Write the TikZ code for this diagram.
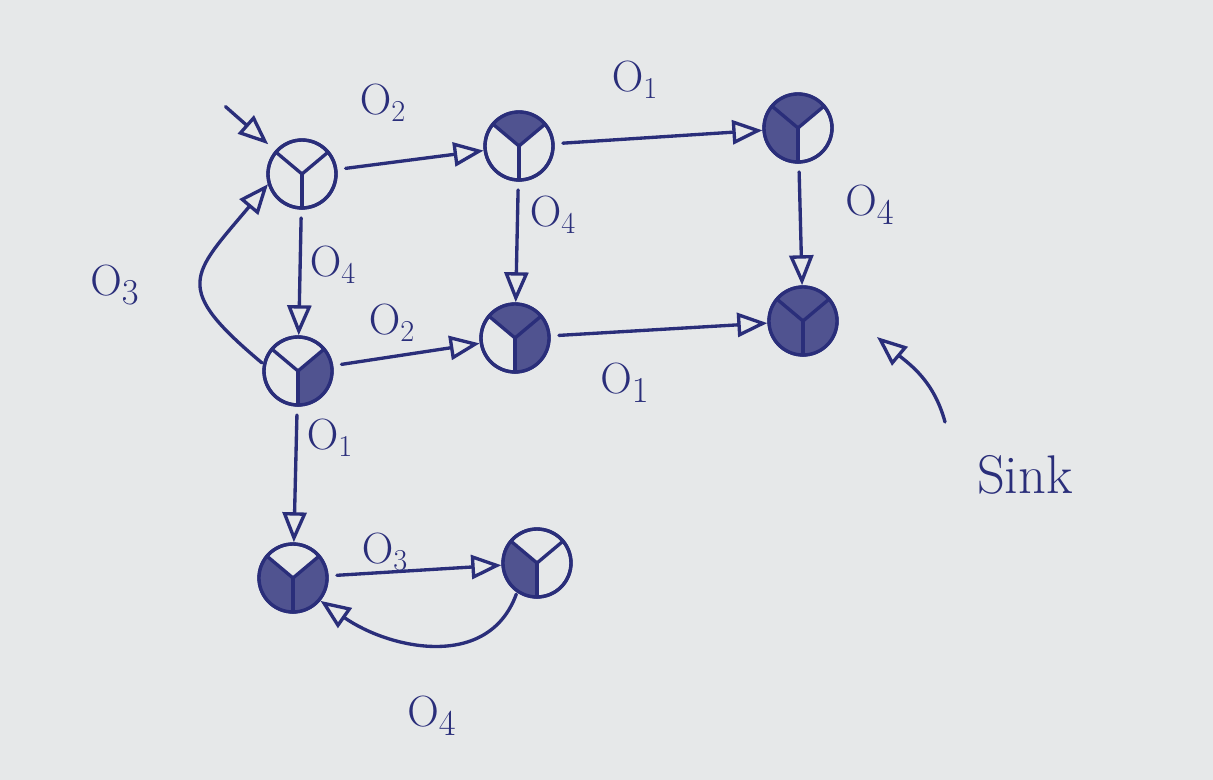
\documentclass[tikz,border=0pt]{standalone}
\usetikzlibrary{arrows.meta}

\definecolor{ink}{RGB}{42,46,122}
\definecolor{paper}{RGB}{230,232,233}

\tikzset{
  pen/.style={draw=ink, line width=1.9pt, line cap=round},
  state/.style={circle, pen, minimum size=1.36cm, inner sep=0pt, outer sep=0pt},
  edge/.style={pen, -{Triangle[open, length=0.6cm, width=0.48cm, line width=1.9pt]},
    shorten <=0.2cm, shorten >=1pt},
  lab/.style={text=ink, font=\fontsize{24}{28}\selectfont},
  biglab/.style={text=ink, font=\fontsize{31}{36}\selectfont}
}

% fill one third of a state: node, start angle, end angle
\newcommand{\inksector}[3]{%
  \fill[ink!80!paper] (#1.center) -- (#1.#2)
    arc[start angle=#2, end angle=#3, radius=0.68cm] -- cycle;}

\begin{document}
\begin{tikzpicture}[x=0.02cm, y=-0.02cm]
% the sheet
\fill[paper] (0,0) rectangle (1213,780);

% the states
\node[state] (n1) at (302,174) {};
\node[state] (n2) at (519,146) {};
\node[state] (n3) at (798,128) {};
\node[state] (n4) at (298,371) {};
\node[state] (n5) at (515,338) {};
\node[state] (n6) at (803,321) {};
\node[state] (n7) at (293,578) {};
\node[state] (n8) at (537,563) {};

% shaded parts (top 40..140, left 140..270, right -90..40)
\inksector{n2}{40}{140}
\inksector{n3}{40}{140}
\inksector{n3}{140}{270}
\inksector{n4}{-90}{40}
\inksector{n5}{40}{140}
\inksector{n5}{-90}{40}
\inksector{n6}{40}{140}
\inksector{n6}{140}{270}
\inksector{n6}{-90}{40}
\inksector{n7}{140}{270}
\inksector{n7}{-90}{40}
\inksector{n8}{140}{270}

% the three spokes of every state
\foreach \n in {n1,n2,n3,n4,n5,n6,n7,n8} {
  \draw[pen] (\n) circle[radius=0.68cm];
  \foreach \a in {40,140,270}
    \draw[pen] (\n.center) -- (\n.\a);
}

% free ends
\coordinate (start) at (218,100);
\coordinate (sinktail) at (945,422);
\coordinate (sinktip) at (877,337);

% the arrows
\draw[edge, shorten >=0.22cm] (start) -- (n1);
\draw[edge] (n1) -- (n2);
\draw[edge] (n2) -- (n3);
\draw[edge] (n1) -- (n4);
\draw[edge] (n2) -- (n5);
\draw[edge] (n3) -- (n6);
\draw[edge, shorten <=2pt] (n4.170) to[out=140, in=230, looseness=1.7] (n1.195);
\draw[edge] (n4) -- (n5);
\draw[edge] (n5) -- (n6);
\draw[edge] (n4) -- (n7);
\draw[edge] (n7) -- (n8);
\draw[edge, shorten <=2pt] (n8.235) to[out=250, in=-35, looseness=1.1] (n7.-40);
\draw[edge, shorten <=0pt, shorten >=0pt] (sinktail) to[out=105, in=-40] (sinktip);

% the labels
\node[lab] (l12) at (383,103) {$\mathrm{O}_2$};
\node[lab] (l23) at (635,80) {$\mathrm{O}_1$};
\node[lab] (l14) at (333,265) {$\mathrm{O}_4$};
\node[lab] (l25) at (553,215) {$\mathrm{O}_4$};
\node[biglab] (l36) at (870,205) {$\mathrm{O}_4$};
\node[biglab] (l41) at (115,285) {$\mathrm{O}_3$};
\node[lab] (l45) at (392,323) {$\mathrm{O}_2$};
\node[biglab] (l56) at (625,383) {$\mathrm{O}_1$};
\node[lab] (l47) at (330,438) {$\mathrm{O}_1$};
\node[lab] (l78) at (385,552) {$\mathrm{O}_3$};
\node[biglab] (l87) at (432,716) {$\mathrm{O}_4$};
\node[biglab] (sink) at (1025,475) {Sink};
\end{tikzpicture}
\end{document}
